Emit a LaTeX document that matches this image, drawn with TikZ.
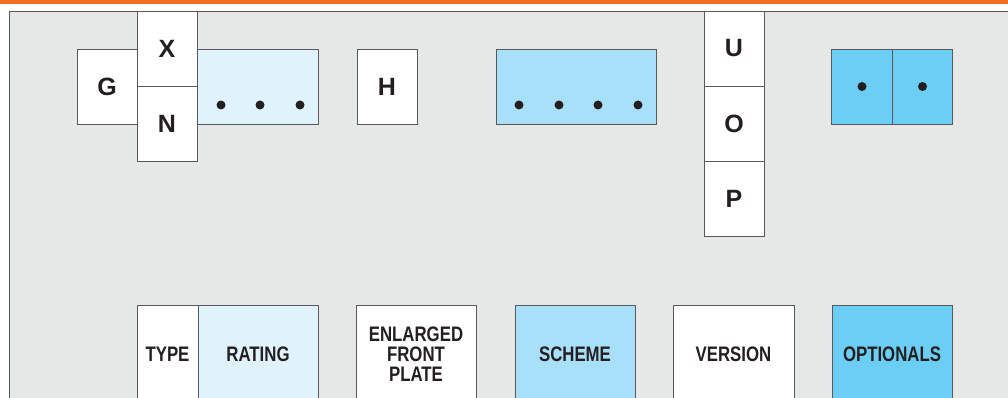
\documentclass[tikz,border=0pt]{standalone}
\usepackage{fontspec}
\setmainfont{Liberation Sans}[FakeStretch=0.8]
\newfontfamily\keyfont{Liberation Sans}
\usetikzlibrary{positioning}

\definecolor{bar}{HTML}{F36C24}
\definecolor{panel}{HTML}{E6E7E7}
\definecolor{edge}{HTML}{58595B}
\definecolor{ink}{HTML}{231F20}
\definecolor{pale}{HTML}{E0F3FD}
\definecolor{mid}{HTML}{A9E0F9}
\definecolor{deep}{HTML}{6CCEF5}

\tikzset{
  cell/.style={draw=edge, line width=0.8pt, fill=white, inner sep=0pt, outer sep=0pt,
    minimum width=60pt, minimum height=75pt, text=ink,
    font=\keyfont\bfseries\fontsize{25}{28}\selectfont},
  tag/.style={draw=edge, line width=0.8pt, fill=white, inner sep=0pt, outer sep=0pt,
    minimum width=120pt, minimum height=97pt, text=ink, align=center,
    font=\bfseries\fontsize{21}{20}\selectfont},
  dot/.style={fill=ink}
}

\begin{document}
\begin{tikzpicture}[x=1pt,y=-1pt]
    \useasboundingbox (0,0) rectangle (1008,398);
    \clip (0,0) rectangle (1008,398);

    % 顶部橙色条和灰色底板
    \fill[bar] (0,0) rectangle (1008,4);
    \draw[edge, line width=0.9pt, fill=panel] (9,11) rectangle (1020,420);

    % === 上排：代码格 ===
    \node[cell] (G) at (107,86.5) {G};
    \node[cell] (X) at (167,48.5) {X};
    \node[cell, below=0pt of X] (N) {N};
    \node[cell, fill=pale, minimum width=121pt] (dots3) at (257.5,86.5) {};
    \node[cell] (H) at (387,86.5) {H};
    \node[cell, fill=mid, minimum width=160pt] (dots4) at (576,86.5) {};
    \node[cell] (U) at (734,48.5) {U};
    \node[cell, below=0pt of U] (O) {O};
    \node[cell, below=0pt of O] (P) {P};
    \node[cell, fill=deep, minimum width=60.5pt] (optA) at (862,86.5) {};
    \node[cell, fill=deep, minimum width=60.5pt, right=0pt of optA] (optB) {};

    % 格内圆点
    \foreach \x in {221,260,300}
        \fill[dot] (\x,105) circle (4.5);
    \foreach \x in {519,559,598,638}
        \fill[dot] (\x,105) circle (4.5);
    \fill[dot] (optA.center) circle (4.5);
    \fill[dot] (optB.center) circle (4.5);

    % === 下排：说明格 ===
    \node[tag, minimum width=61pt] (type) at (167.5,354) {TYPE};
    \node[tag, fill=pale, right=0pt of type] (rating) {RATING};
    \node[tag] (plate) at (416,354) {ENLARGED\\FRONT\\PLATE};
    \node[tag, fill=mid] (scheme) at (575,354) {SCHEME};
    \node[tag, minimum width=121pt] (version) at (733.5,354) {VERSION};
    \node[tag, fill=deep] (optionals) at (892,354) {OPTIONALS};
\end{tikzpicture}
\end{document}
